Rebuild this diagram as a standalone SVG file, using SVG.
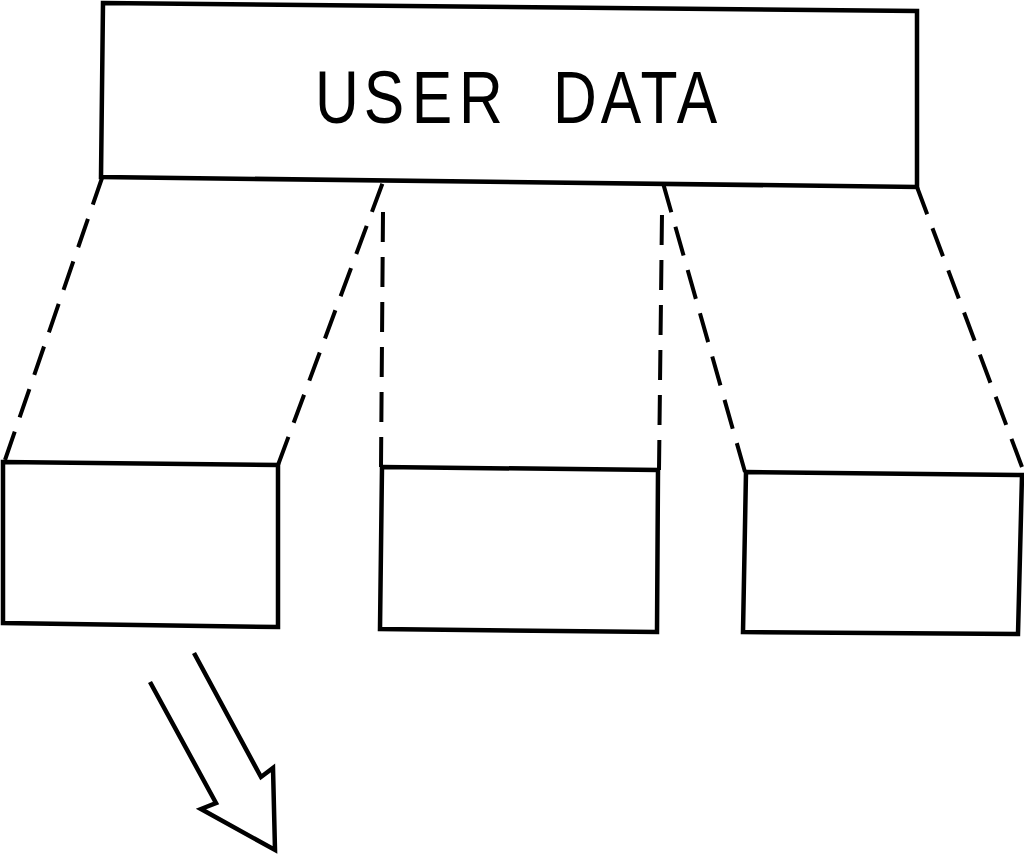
<svg xmlns="http://www.w3.org/2000/svg" width="1024" height="854" viewBox="0 0 1024 854">
<style>
.box{fill:none;stroke:#000;stroke-width:4.5;stroke-linejoin:miter}
.dash{fill:none;stroke:#000;stroke-width:4;stroke-dasharray:30 15}
.arrow{fill:none;stroke:#000;stroke-width:4.5;stroke-linejoin:miter}
.label{font-family:"Liberation Sans",Arial,sans-serif;font-size:74px;fill:#000;text-anchor:middle}
</style>
<rect width="1024" height="854" fill="#fff"/>
<g id="user-data">
<polygon class="box" points="103,3 917,11 917,187 101,177"/>
<text class="label" transform="scale(0.82 1)" x="411 468.3 526.8 586.6 643.9 701.2 757.3 803.7 850" y="123">USER DATA</text>
</g>
<g id="part-1">
<polygon class="box" points="3,462 278,465 278,627 3,623"/>
</g>
<g id="part-2">
<polygon class="box" points="382,467 658,470 657,632 380,629"/>
</g>
<g id="part-3">
<polygon class="box" points="746,472 1022,475 1018,634 743,632"/>
</g>
<g id="connectors">
<line class="dash" x1="5" y1="460" x2="102" y2="178"/>
<line class="dash" x1="278" y1="465" x2="383" y2="182"/>
<line class="dash" x1="381" y1="467" x2="383" y2="212"/>
<line class="dash" x1="659" y1="470" x2="662" y2="213"/>
<line class="dash" x1="745" y1="472" x2="663" y2="183"/>
<line class="dash" x1="1022" y1="467" x2="917" y2="187"/>
</g>
<g id="arrow">
<polyline class="arrow" points="150,682 216,803 201,809 275,850 273,768 261,777 194,653"/>
</g>
</svg>
